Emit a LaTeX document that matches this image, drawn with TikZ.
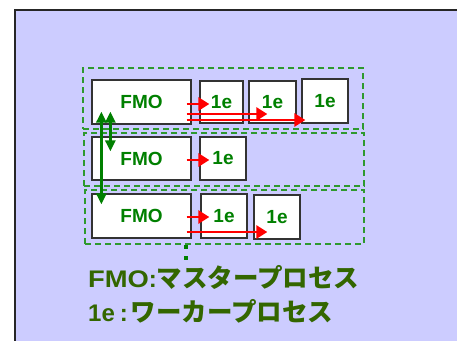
\documentclass[tikz,border=0pt]{standalone}
\usepackage{fontspec}
\setmainfont{Liberation Sans}
\newfontfamily\widefont{Liberation Sans}[FakeStretch=1.14]
\newfontfamily\jfont{Noto Sans CJK JP}
\usetikzlibrary{arrows.meta,calc}
\definecolor{lav}{HTML}{CCCCFF}
\definecolor{fgreen}{HTML}{008000}
\definecolor{dgreen}{HTML}{2E992E}
\definecolor{olive}{HTML}{336600}
\tikzset{
  proc/.style={draw=black!80, line width=1.3pt, fill=white, inner sep=0pt, font=\fontsize{19}{21}\selectfont\bfseries, text=fgreen},
  grp/.style={draw=dgreen, line width=1.5pt, dash pattern=on 6pt off 4pt, inner sep=0pt},
  redarr/.style={draw=red, line width=2.8pt, -{Triangle[length=11pt,width=13pt]}},
  grnarr/.style={draw=fgreen, line width=3pt, {Triangle[length=11pt,width=10pt]}-{Triangle[length=11pt,width=10pt]}},
  legend/.style={anchor=west, inner sep=0pt, text=olive, font=\fontsize{24}{28}\selectfont\bfseries}
}
\begin{document}
\begin{tikzpicture}[x=1pt,y=-1pt]
\useasboundingbox (0,0) rectangle (457,340);
\fill[white] (0,0) rectangle (457,340);
\fill[lav] (15,10) rectangle (458,341);
\draw[black!85, line width=1.5pt] (15,341) -- (15,10) -- (458,10);
% groups
\node[grp, minimum width=280pt, minimum height=61pt] (g1) at (223,98.5) {};
\node[grp, minimum width=280pt, minimum height=53pt] (g2) at (224,159.5) {};
\node[grp, minimum width=279pt, minimum height=54pt] (g3) at (224.5,217) {};
% row 1
\node[proc, minimum width=99pt, minimum height=44pt] (f1) at (141.5,102) {FMO};
\node[proc, minimum width=43pt, minimum height=42pt] (a1) at (221.5,102) {1e};
\node[proc, minimum width=47pt, minimum height=42pt] (b1) at (272.5,102) {1e};
\node[proc, minimum width=46pt, minimum height=44pt] (c1) at (325,101) {1e};
% row 2
\node[proc, minimum width=99pt, minimum height=43pt] (f2) at (141.5,158.5) {FMO};
\node[proc, minimum width=46pt, minimum height=43pt] (a2) at (223,158.5) {1e};
% row 3
\node[proc, minimum width=99pt, minimum height=44pt] (f3) at (141.5,216) {FMO};
\node[proc, minimum width=46pt, minimum height=44pt] (a3) at (224,216) {1e};
\node[proc, minimum width=46pt, minimum height=44pt] (b3) at (277,217) {1e};
% red arrows
\draw[redarr] ($(f1.east)+(-5,2)$) -- ($(a1.west)+(10,2)$);
\draw[redarr] ($(f1.east)+(-5,12)$) -- ($(b1.west)+(19,12)$);
\draw[redarr] ($(f1.east)+(-5,18)$) -- ($(c1.west)+(4,19)$);
\draw[redarr] ($(f2.east)+(-5,1.5)$) -- ($(a2.west)+(10,1.5)$);
\draw[redarr] ($(f3.east)+(-5,1)$) -- ($(a3.west)+(9,1)$);
\draw[redarr] ($(f3.east)+(-5,16)$) -- ($(b3.west)+(14,15)$);
% green arrows
\draw[grnarr] ($(f1.south west)+(19,-13)$) -- ($(f2.north west)+(19,15)$);
\draw[grnarr] ($(f1.south west)+(10,-13)$) -- ($(f3.north west)+(10,11)$);
% dots
\coordinate (dotend) at (186,261);
\draw[fgreen, line width=4pt, dash pattern=on 4pt off 7pt] (186,245) -- (dotend);
% legend
\node[legend] (l1) at (88,277) {{\widefont FMO}:{\jfont\fontsize{25.5}{28}\selectfont マスタープロセス}};
\node[legend] (l2) at (88,311) {1e\hspace{5pt}:\hspace{3pt}{\jfont\fontsize{25.5}{28}\selectfont ワーカープロセス}};
\end{tikzpicture}
\end{document}
